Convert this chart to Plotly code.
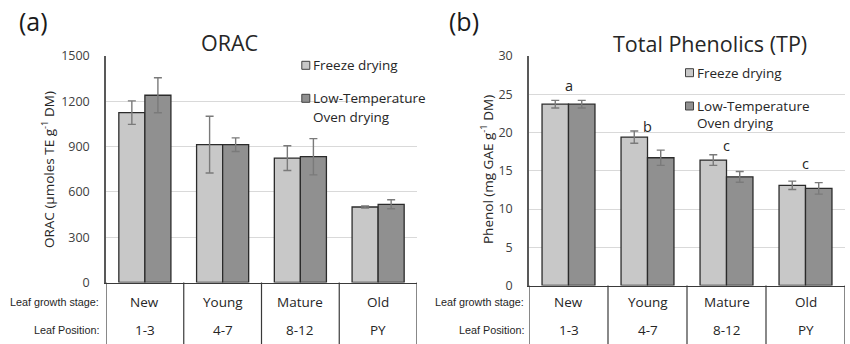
import plotly.graph_objects as go

# Leaf growth stages and leaf positions
stages = ["New", "Young", "Mature", "Old"]
positions = ["1-3", "4-7", "8-12", "PY"]

# ORAC (µmoles TE g-1 DM)
orac_freeze = [1125, 913, 824, 500]
orac_freeze_err = [78, 188, 82, 7]
orac_oven = [1240, 913, 833, 518]
orac_oven_err = [116, 45, 120, 30]

# Total phenolics (mg GAE g-1 DM)
tp_freeze = [23.7, 19.4, 16.4, 13.1]
tp_freeze_err = [0.5, 0.8, 0.7, 0.55]
tp_oven = [23.7, 16.7, 14.2, 12.7]
tp_oven_err = [0.5, 1.0, 0.7, 0.75]
tp_letters = ["a", "b", "c", "c"]

W, H = 850, 344
FREEZE = "#c8c8c8"
OVEN = "#909090"
EDGE = "#2b2b2b"
ERR = "#7a7a7a"
TXT = "#404040"
FONT = "Open Sans, Noto Sans, sans-serif"
NARROW = "Liberation Sans, Arial, sans-serif"


def px(x):
    return x / W


def py(y):
    return (H - y) / H


def label(x, y, text, size, color="#262626", family=FONT, xanchor="center", xref="paper", yref="paper", **kw):
    return dict(xref=xref, yref=yref, x=x, y=y, text=text, showarrow=False,
                xanchor=xanchor, yanchor="middle",
                font=dict(family=family, size=size, color=color), **kw)


fig = go.Figure()

panels = [
    dict(xa="x", ya="y", f=orac_freeze, fe=orac_freeze_err, o=orac_oven, oe=orac_oven_err),
    dict(xa="x2", ya="y2", f=tp_freeze, fe=tp_freeze_err, o=tp_oven, oe=tp_oven_err),
]
for p in panels:
    fig.add_trace(go.Bar(
        x=stages, y=p["f"], name="Freeze drying", xaxis=p["xa"], yaxis=p["ya"],
        marker=dict(color=FREEZE, line=dict(color=EDGE, width=1.3)),
        error_y=dict(type="data", array=p["fe"], color=ERR, thickness=1.4, width=4),
        showlegend=False,
    ))
    fig.add_trace(go.Bar(
        x=stages, y=p["o"], name="Low-Temperature Oven drying", xaxis=p["xa"], yaxis=p["ya"],
        marker=dict(color=OVEN, line=dict(color=EDGE, width=1.3)),
        error_y=dict(type="data", array=p["oe"], color=ERR, thickness=1.4, width=4),
        showlegend=False,
    ))

# plot areas (pixels): left 106-417 x 56-282, right 529-845 x 56-285
left_dom = [px(106), px(417)]
right_dom = [px(529), px(845)]
left_y = [py(282.5), py(56)]
right_y = [py(285.5), py(56)]

xcommon = dict(type="category", range=[-0.5, 3.5], showticklabels=False, ticks="",
               showline=True, linecolor="#3a3a3a", linewidth=1.2, showgrid=False, fixedrange=True)
ycommon = dict(showline=True, linecolor="#595959", linewidth=1.5, showgrid=True,
               gridcolor="#d9d9d9", gridwidth=1, zeroline=False, ticks="",
               tickfont=dict(family=FONT, size=12.5, color=TXT), ticklabelstandoff=12)

fig.update_layout(
    width=W, height=H, margin=dict(l=0, r=0, t=0, b=0, autoexpand=False),
    paper_bgcolor="white", plot_bgcolor="white",
    barmode="group", bargap=0.33, bargroupgap=0,
    xaxis=dict(domain=left_dom, anchor="y", **xcommon),
    yaxis=dict(domain=left_y, anchor="x", range=[0, 1500], dtick=300, **ycommon),
    xaxis2=dict(domain=right_dom, anchor="y2", **xcommon),
    yaxis2=dict(domain=right_y, anchor="x2", range=[0, 30], dtick=5, **ycommon),
    font=dict(family=FONT, color=TXT),
    showlegend=False,
)

shapes = []
annotations = []

# table beneath each panel: vertical separators and two rows of labels
for xa, ya_dom, label_x in [("x", left_y, 101), ("x2", right_y, 526)]:
    for b in [-0.5, 0.5, 1.5, 2.5, 3.5]:
        shapes.append(dict(type="line", xref=xa, yref="paper", x0=b, x1=b,
                           y0=0, y1=ya_dom[0], line=dict(color="#3a3a3a", width=1.2)))
    for i, (s, pos) in enumerate(zip(stages, positions)):
        annotations.append(label(i, py(301.5), s, 13.5, xref=xa))
        annotations.append(label(i, py(330), pos, 13.5, xref=xa))
    annotations.append(label(px(label_x), py(301.5), "Leaf growth stage:", 10.8,
                             family=NARROW, xanchor="right"))
    annotations.append(label(px(label_x), py(330), "Leaf Position:", 10.8,
                             family=NARROW, xanchor="right"))

# panel letters, titles and axis titles
annotations += [
    label(px(33), py(21), "(a)", 25, color="#1a1a1a"),
    label(px(464), py(21), "(b)", 25, color="#1a1a1a"),
    label(px(230), py(42), "ORAC", 21.5),
    label(px(710), py(43), "Total Phenolics (TP)", 21.5),
    label(px(48), py(170), "ORAC (µmoles TE g<sup>-1</sup> DM)", 13.5, textangle=-90),
    label(px(487), py(170), "Phenol (mg GAE g<sup>-1</sup> DM)", 13.5, textangle=-90),
]

# significance letters above the phenolics groups
letter_y = [26.2, 20.8, 18.3, 15.9]
for i, (lt, ly) in enumerate(zip(tp_letters, letter_y)):
    annotations.append(label(i, ly, lt, 14.5, xref="x2", yref="y2"))

# legends drawn as swatches with text
for mx, rows in [(305.8, [65.3, 98.3, 116.7]), (689.5, [72.7, 106, 123.3])]:
    for color, yc in [(FREEZE, rows[0]), (OVEN, rows[1])]:
        shapes.append(dict(type="rect", xref="paper", yref="paper",
                           x0=px(mx - 4), x1=px(mx + 4), y0=py(yc + 4), y1=py(yc - 4),
                           fillcolor=color, line=dict(color="#404040", width=1)))
    tx = mx + 5
    for text, yc in [("Freeze drying", rows[0]), ("Low-Temperature", rows[1]), ("Oven drying", rows[2])]:
        annotations.append(label(px(tx), py(yc), text, 13.5, xanchor="left"))

fig.update_layout(shapes=shapes, annotations=annotations)
fig.write_html("out.html")
